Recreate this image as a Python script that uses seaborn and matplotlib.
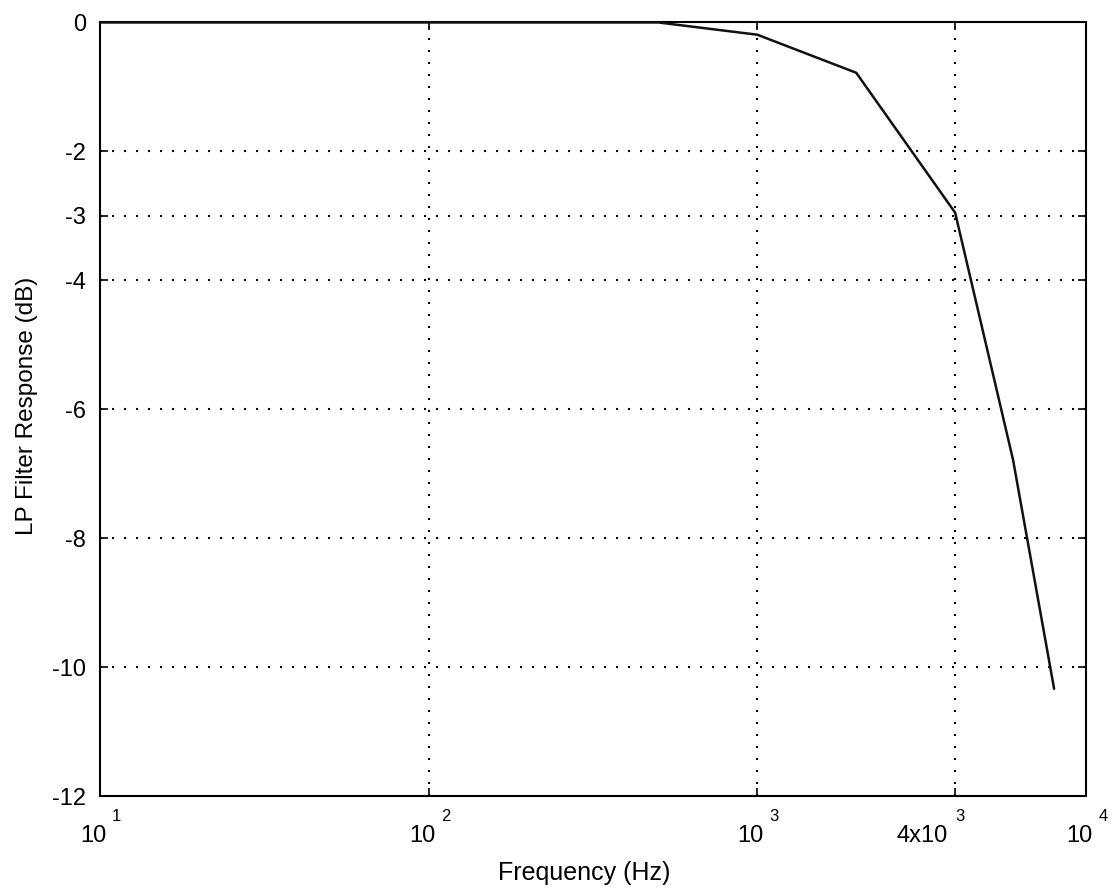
import matplotlib
matplotlib.use("Agg")
import matplotlib.pyplot as plt
import seaborn as sns
import pandas as pd
from matplotlib.ticker import FixedLocator, NullLocator, NullFormatter

# Data
freq_hz = [10, 100, 500, 1000, 2000, 4000, 6000, 8000]
response_db = [0.0, 0.0, 0.0, -0.19, -0.78, -2.95, -6.78, -10.33]

x_ticks = [10, 100, 1000, 4000, 10000]
x_tick_bases = ["10", "10", "10", "4x10", "10"]
x_tick_exps = ["1", "2", "3", "3", "4"]
y_ticks = [0, -2, -3, -4, -6, -8, -10, -12]
y_tick_labels = ["0", "-2", "-3", "-4", "-6", "-8", "-10", "-12"]
x_grid = [100, 1000, 4000]
y_grid = [-2, -3, -4, -6, -8, -10]

# layout offsets (pixels) for the MATLAB-style exponent tick labels
base_right_off = [6.5, 6.5, 6.5, -7, 6.5]
exp_left_off = [12, 12.5, 12.5, 0.5, 13]

sns.set_style("white")
plt.rcParams['font.family'] = ['Liberation Sans', 'DejaVu Sans']
plt.rcParams['text.color'] = 'black'
plt.rcParams['axes.labelcolor'] = 'black'
plt.rcParams['xtick.color'] = 'black'
plt.rcParams['ytick.color'] = 'black'

df = pd.DataFrame({"Frequency (Hz)": freq_hz, "LP Filter Response (dB)": response_db})

fig = plt.figure(figsize=(11.17, 8.91), dpi=100)
ax = fig.add_axes([0.0895, 0.1061, 0.8827, 0.8687])

sns.lineplot(data=df, x="Frequency (Hz)", y="LP Filter Response (dB)", ax=ax,
             color="#111111", linewidth=1.8, clip_on=False, zorder=3)

ax.set_xscale("log")
ax.set_xlim(10, 10000)
ax.set_ylim(-12, 0)

dots = (0, (1, 4.76))
for xv in x_grid:
    ax.axvline(xv, color="black", linestyle=dots, linewidth=1.5, zorder=1)
for yv in y_grid:
    ax.axhline(yv, color="black", linestyle=dots, linewidth=1.5, zorder=1)

ax.xaxis.set_major_locator(FixedLocator(x_ticks))
ax.xaxis.set_minor_locator(NullLocator())
ax.xaxis.set_major_formatter(NullFormatter())
ax.xaxis.set_minor_formatter(NullFormatter())
ax.set_yticks(y_ticks)
ax.set_yticklabels(y_tick_labels, fontsize=17)

xtr = ax.get_xaxis_transform()
for xv, b, e, bo, eo in zip(x_ticks, x_tick_bases, x_tick_exps, base_right_off, exp_left_off):
    ax.annotate(b, xy=(xv, 0), xycoords=xtr, xytext=(bo, -46), textcoords="offset pixels",
                ha="right", va="baseline", fontsize=17, annotation_clip=False)
    ax.annotate(e, xy=(xv, 0), xycoords=xtr, xytext=(eo, -25), textcoords="offset pixels",
                ha="left", va="baseline", fontsize=12, annotation_clip=False)

ax.tick_params(axis="both", direction="in", length=6, width=1.2, color="black",
               top=True, right=True, bottom=True, left=True)
ax.tick_params(axis="y", pad=10)

for s in ax.spines.values():
    s.set_color("black")
    s.set_linewidth(1.5)

ax.set_xlabel("Frequency (Hz)", fontsize=18, va="baseline")
ax.xaxis.set_label_coords(0.491, -0.1079)
ax.set_ylabel("LP Filter Response (dB)", fontsize=17.5, va="baseline")
ax.yaxis.set_label_coords(-0.068, 0.5045)

fig.savefig("out.png", dpi=100, facecolor="white")
